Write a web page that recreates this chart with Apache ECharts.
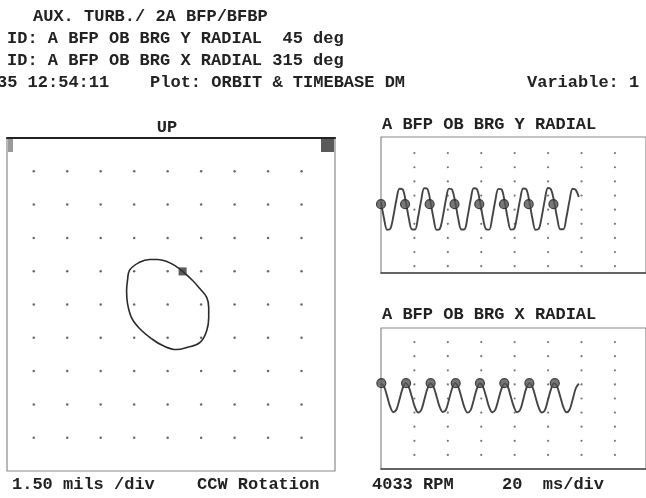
<!DOCTYPE html>
<html><head><meta charset="utf-8">
<script src="https://cdn.jsdelivr.net/npm/echarts@6/dist/echarts.min.js"></script>
<style>html,body{margin:0;padding:0;background:#fff}#c{width:646px;height:498px}</style>
</head><body><div id="c"></div><script>
// ---- texts ----
const headerLines = [
  'AUX. TURB./ 2A BFP/BFBP',
  'ID: A BFP OB BRG Y RADIAL  45 deg',
  'ID: A BFP OB BRG X RADIAL 315 deg',
  '35 12:54:11    Plot: ORBIT & TIMEBASE DM'
];
const variableText = 'Variable: 1';
const orbitTitle = 'UP';
const yPanelTitle = 'A BFP OB BRG Y RADIAL';
const xPanelTitle = 'A BFP OB BRG X RADIAL';
const footerLeft = ['1.50 mils /div', 'CCW Rotation'];
const footerRight = ['4033 RPM', '20  ms/div'];

// ---- orbit (mils) ----
const orbitX = [0.67, 1.12, 1.44, 1.75, 1.84, 1.84, 1.75, 1.44, 0.85, 0.40, -0.22, -0.72, -1.26, -1.62, -1.80, -1.84, -1.80, -1.71, -1.26, -0.81, -0.45, -0.04, 0.31, 0.67];
const orbitY = [1.49, 1.08, 0.72, 0.32, -0.14, -0.59, -1.18, -1.72, -1.94, -2.03, -1.85, -1.54, -1.08, -0.59, 0.05, 0.63, 1.08, 1.54, 1.90, 2.03, 2.03, 1.94, 1.76, 1.49];
const orbitKeyphasor = [0.67, 1.49];
const orbitTicks = [-6, -4.5, -3, -1.5, 0, 1.5, 3, 4.5, 6];

// ---- timebase (ms, divisions) ----
const timeStep = 1.85;
const yRadial = [
  0.55, -0.64, -1.42, -1.36, -0.47, 0.72, 1.48, 1.44,
  0.58, -0.60, -1.39, -1.40, -0.52, 0.66, 1.52, 1.47,
  0.56, -0.63, -1.43, -1.37, -0.49, 0.70, 1.49, 1.42,
  0.54, -0.65, -1.40, -1.39, -0.51, 0.68, 1.51, 1.46,
  0.59, -0.61, -1.38, -1.41, -0.53, 0.67, 1.47, 1.43,
  0.57, -0.62, -1.41, -1.38, -0.48, 0.71, 1.50, 1.45,
  0.55, -0.64, -1.42, -1.37, -0.50, 0.69, 1.53, 1.44,
  0.58, -0.60, -1.39, -1.39, -0.52, 0.66, 1.48, 1.40,
  0.90
];
const xRadial = [
  1.07, 0.84, 0.15, -0.60, -0.97, -0.78, -0.05, 0.72,
  1.09, 0.81, 0.10, -0.63, -0.99, -0.82, -0.09, 0.69,
  1.06, 0.83, 0.13, -0.61, -0.96, -0.80, -0.07, 0.71,
  1.10, 0.80, 0.11, -0.64, -1.00, -0.83, -0.10, 0.68,
  1.08, 0.82, 0.14, -0.62, -0.98, -0.79, -0.06, 0.70,
  1.07, 0.85, 0.12, -0.60, -0.97, -0.81, -0.08, 0.73,
  1.09, 0.81, 0.09, -0.63, -0.99, -0.84, -0.11, 0.67,
  1.08, 0.83, 0.13, -0.61, -0.98, -0.80, -0.07, 0.71,
  1.05
];
const yKeyphasorTimes = [0.0, 14.4, 29.1, 44.0, 58.8, 73.6, 88.4, 103.2];
const yKeyphasorLevel = 0.39;
const xKeyphasorTimes = [0.2, 15.0, 29.7, 44.7, 59.2, 73.8, 88.8, 104.0];
const xKeyphasorLevel = 1.09;
const timeTicks = [20, 40, 60, 80, 100, 120, 140];
const ampTicks = [-4, -3, -2, -1, 0, 1, 2, 3, 4];

// ---- build ----
const FONT = 'bold 17px "Liberation Mono", monospace';
const INK = '#222';
function dots(xs, ys) { const o = []; xs.forEach(x => ys.forEach(y => o.push([x, y]))); return o; }
function timed(vals) { return vals.map((v, i) => [+(i * timeStep).toFixed(2), v]); }
function txt(text, x, y, align) {
  return { type: 'text', x: x, y: y, silent: true,
    style: { text: text, font: FONT, fill: INK, align: align || 'left', verticalAlign: 'middle' } };
}
const hidden = { axisLabel: { show: false }, axisTick: { show: false }, splitLine: { show: false } };

const chart = echarts.init(document.getElementById('c'), null, { renderer: 'canvas' });
chart.setOption({
  animation: false,
  backgroundColor: '#ffffff',
  grid: [
    { left: 7, top: 138, width: 328, height: 333, show: true, borderColor: '#8a8a8a', borderWidth: 1.2, backgroundColor: 'transparent' },
    { left: 381, top: 137, width: 265, height: 136, show: true, borderColor: '#8a8a8a', borderWidth: 1.2, backgroundColor: 'transparent' },
    { left: 381, top: 328, width: 265, height: 141, show: true, borderColor: '#8a8a8a', borderWidth: 1.2, backgroundColor: 'transparent' }
  ],
  xAxis: [
    Object.assign({ type: 'value', gridIndex: 0, min: -7.2, max: 7.5, position: 'top',
      axisLine: { show: true, onZero: false, lineStyle: { color: '#222', width: 2 } } }, hidden),
    Object.assign({ type: 'value', gridIndex: 1, min: 0, max: 158.6,
      axisLine: { show: true, onZero: false, lineStyle: { color: '#444', width: 1.5 } } }, hidden),
    Object.assign({ type: 'value', gridIndex: 2, min: 0, max: 158.6,
      axisLine: { show: true, onZero: false, lineStyle: { color: '#444', width: 1.5 } } }, hidden)
  ],
  yAxis: [
    Object.assign({ type: 'value', gridIndex: 0, min: -7.5, max: 7.5, axisLine: { show: false } }, hidden),
    Object.assign({ type: 'value', gridIndex: 1, min: -4.48, max: 5.14, axisLine: { show: false } }, hidden),
    Object.assign({ type: 'value', gridIndex: 2, min: -5, max: 5, axisLine: { show: false } }, hidden)
  ],
  series: [
    { type: 'scatter', xAxisIndex: 0, yAxisIndex: 0, data: dots(orbitTicks, orbitTicks), symbolSize: 2.5, itemStyle: { color: '#444' }, silent: true, z: 1 },
    { type: 'scatter', xAxisIndex: 1, yAxisIndex: 1, data: dots(timeTicks, ampTicks), symbolSize: 2.2, itemStyle: { color: '#555' }, silent: true, z: 1 },
    { type: 'scatter', xAxisIndex: 2, yAxisIndex: 2, data: dots(timeTicks, ampTicks), symbolSize: 2.2, itemStyle: { color: '#555' }, silent: true, z: 1 },
    { type: 'line', xAxisIndex: 0, yAxisIndex: 0, data: orbitX.map((x, i) => [x, orbitY[i]]), smooth: 0.4, symbol: 'none',
      lineStyle: { color: '#2a2a2a', width: 1.6 }, z: 3 },
    { type: 'scatter', xAxisIndex: 0, yAxisIndex: 0, data: [orbitKeyphasor], symbol: 'rect', symbolSize: 8, itemStyle: { color: '#333' }, z: 4 },
    { type: 'line', xAxisIndex: 1, yAxisIndex: 1, data: timed(yRadial), smooth: 0.35, symbol: 'none',
      lineStyle: { color: '#444', width: 1.9 }, z: 3 },
    { type: 'scatter', xAxisIndex: 1, yAxisIndex: 1, data: yKeyphasorTimes.map(t => [t, yKeyphasorLevel]), symbolSize: 9,
      itemStyle: { color: '#555', borderColor: '#222', borderWidth: 1.2 }, z: 4 },
    { type: 'line', xAxisIndex: 2, yAxisIndex: 2, data: timed(xRadial), smooth: 0.35, symbol: 'none',
      lineStyle: { color: '#444', width: 1.9 }, z: 3 },
    { type: 'scatter', xAxisIndex: 2, yAxisIndex: 2, data: xKeyphasorTimes.map(t => [t, xKeyphasorLevel]), symbolSize: 9,
      itemStyle: { color: '#555', borderColor: '#222', borderWidth: 1.2 }, z: 4 }
  ],
  graphic: [
    txt(headerLines[0], 33, 17),
    txt(headerLines[1], 7, 39),
    txt(headerLines[2], 7, 61),
    txt(headerLines[3], -3, 83),
    txt(variableText, 527, 83),
    txt(orbitTitle, 167, 128, 'center'),
    txt(yPanelTitle, 382, 125),
    txt(xPanelTitle, 382, 315),
    txt(footerLeft[0], 12, 485),
    txt(footerLeft[1], 197, 485),
    txt(footerRight[0], 372, 485),
    txt(footerRight[1], 502, 485),
    { type: 'rect', shape: { x: 8, y: 139, width: 5, height: 13 }, style: { fill: '#9a9a9a' }, silent: true },
    { type: 'rect', shape: { x: 321, y: 139, width: 13, height: 13 }, style: { fill: '#5a5a5a' }, silent: true }
  ]
});
</script></body></html>
